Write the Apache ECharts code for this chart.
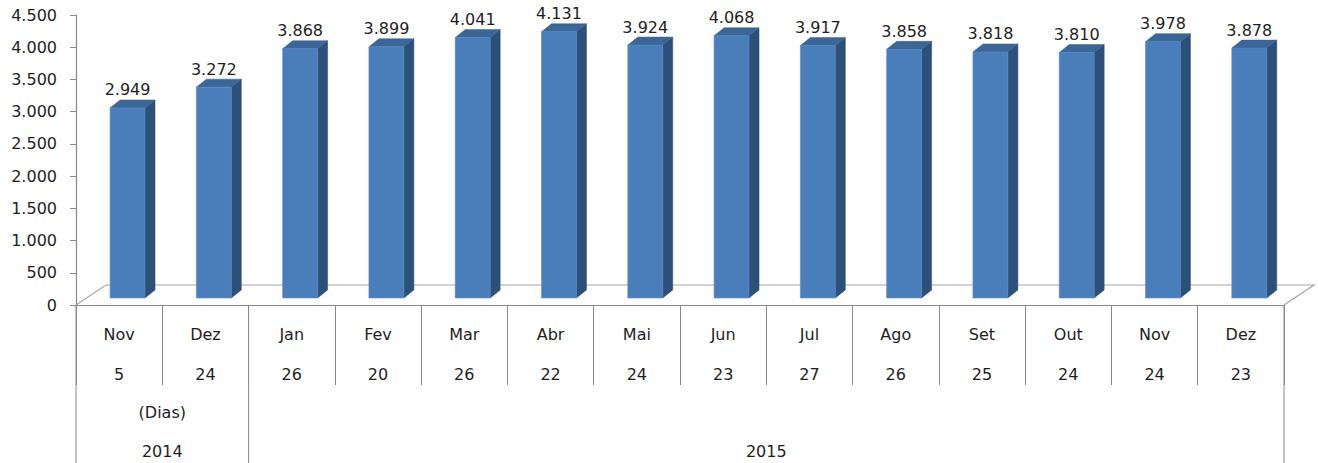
<!DOCTYPE html>
<html>
<head>
<meta charset="utf-8">
<script src="https://cdn.jsdelivr.net/npm/echarts@6/dist/echarts.min.js"></script>
<style>
html,body{margin:0;padding:0;background:#fff;}
#chart{width:1318px;height:463px;}
</style>
</head>
<body>
<div id="chart"></div>
<script>
// ---- data ----
const months = ['Nov','Dez','Jan','Fev','Mar','Abr','Mai','Jun','Jul','Ago','Set','Out','Nov','Dez'];
const days = [5,24,26,20,26,22,24,23,27,26,25,24,24,23];
const values = [2949,3272,3868,3899,4041,4131,3924,4068,3917,3858,3818,3810,3978,3878];
const yearLabels = ['2014','2015'];
const yearSpans = [2,12];
const groupNote = '(Dias)';
const yMin = 0, yMax = 4500, yStep = 500;

// ---- helpers ----
const fmt = v => String(v).replace(/\B(?=(\d{3})+(?!\d))/g, '.');
const FONT = 'DejaVu Sans';
const FS = 16;
const TXT = '#1e1e1e';
const AX = '#8a8a8a';

const chart = echarts.init(document.getElementById('chart'), null, {renderer:'svg'});

const DX = 10, DY = -8;       // bar depth
const FDX = 30, FDY = -20;    // floor depth
const BASE = -7;              // bar base offset (inside floor)

function renderBar(params, api){
  const i = api.value(0), v = api.value(1);
  const w = api.size([1,0])[0];
  const c = api.coord([i, 0]);
  const t = api.coord([i, v]);
  const cx = c[0];
  const xl = cx - 0.105*w, xr = cx + 0.30*w;
  const yb = c[1] + BASE, yt = t[1] + BASE;
  return {
    type:'group',
    children:[
      {type:'polygon', shape:{points:[[xr,yb],[xr+DX,yb+DY],[xr+DX,yt+DY],[xr,yt]]},
        style:{fill:'#2d5079', stroke:'#2a4a70', lineWidth:0.5}},
      {type:'polygon', shape:{points:[[xl,yt],[xr,yt],[xr+DX,yt+DY],[xl+DX,yt+DY]]},
        style:{fill:'#3b6698', stroke:'#365f8f', lineWidth:0.5}},
      {type:'rect', shape:{x:xl, y:yt, width:xr-xl, height:yb-yt},
        style:{fill:'#4a7ebb', stroke:'#5b8bc4', lineWidth:0.6}},
      {type:'text', x:(xl+xr)/2, y:yt+DY-2,
        style:{text:fmt(v), fill:TXT, font:FS+'px "'+FONT+'"', align:'center', verticalAlign:'bottom'}}
    ]
  };
}

function renderFrame(params, api){
  if (params.dataIndex !== 0) return;
  const n = months.length;
  const w = api.size([1,0])[0];
  const edge = b => (b < n ? api.coord([b, 0])[0] - w/2 : api.coord([n-1, 0])[0] + w/2);
  const y0 = api.coord([0, 0])[1];
  const x0 = edge(0), x1 = edge(n);
  const bottom = 463;
  const ch = [];
  // floor
  ch.push({type:'polyline', shape:{points:[[x0,y0],[x0+FDX,y0+FDY],[x1+FDX,y0+FDY],[x1,y0]]},
    style:{stroke:'#a6a6a6', lineWidth:1.2, fill:null}});
  // group lines and labels
  let start = 0;
  const bounds = [start];
  yearSpans.forEach(s => { start += s; bounds.push(start); });
  bounds.forEach(b => {
    const x = edge(b);
    ch.push({type:'line', shape:{x1:x, y1:y0, x2:x, y2:bottom}, style:{stroke:AX, lineWidth:1}});
  });
  for (let g = 0; g < yearSpans.length; g++){
    const xm = (edge(bounds[g]) + edge(bounds[g+1]))/2;
    if (g === 0) {
      ch.push({type:'text', x:xm, y:412, style:{text:groupNote, fill:TXT, font:FS+'px "'+FONT+'"', align:'center', verticalAlign:'middle'}});
    }
    ch.push({type:'text', x:xm, y:451, style:{text:yearLabels[g], fill:TXT, font:FS+'px "'+FONT+'"', align:'center', verticalAlign:'middle'}});
  }
  return {type:'group', children:ch};
}

const barData = values.map((v,i) => [i, v]);

chart.setOption({
  animation:false,
  grid:{left:76, right:34, top:15, bottom:158},
  xAxis:{
    type:'category', data:months, boundaryGap:true,
    axisLine:{show:true, lineStyle:{color:AX, width:1.2}},
    axisTick:{show:true, length:80, inside:false, lineStyle:{color:AX}},
    axisLabel:{
      margin:9,
      formatter:(val, idx) => '{m|' + val + '}\n{d|' + days[idx] + '}',
      rich:{
        m:{fontFamily:FONT, fontSize:FS, color:TXT, lineHeight:40, align:'center'},
        d:{fontFamily:FONT, fontSize:FS, color:TXT, lineHeight:40, align:'center'}
      }
    },
    splitLine:{show:false}
  },
  yAxis:{
    type:'value', min:yMin, max:yMax, interval:yStep,
    axisLine:{show:true, lineStyle:{color:AX, width:1.2}},
    axisTick:{show:true, length:6, lineStyle:{color:AX}},
    axisLabel:{margin:19, fontFamily:FONT, fontSize:FS, color:TXT, formatter:v => fmt(v)},
    splitLine:{show:false}
  },
  series:[
    {type:'custom', renderItem:renderFrame, data:[[0,0]], silent:true, z:1},
    {type:'custom', renderItem:renderBar, data:barData, z:2}
  ]
});
</script>
</body>
</html>
